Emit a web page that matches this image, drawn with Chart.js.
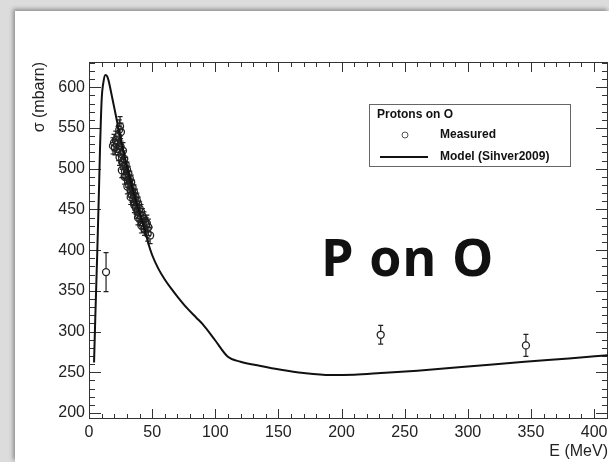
<!DOCTYPE html>
<html>
<head>
<meta charset="utf-8">
<script src="https://cdn.jsdelivr.net/npm/chart.js@4.4.1/dist/chart.umd.min.js"></script>
<style>
  html, body { margin: 0; padding: 0; }
  body { width: 609px; height: 462px; overflow: hidden; background: #dcdcdc; position: relative; }
  #panel { position: absolute; left: 15px; top: 11px; right: 0; bottom: 0; background: #fff; box-shadow: -2px -2px 4px rgba(0,0,0,0.35); }
  #myChart { position: absolute; left: 0; top: 0; }
  #tag { position: absolute; left: 321px; top: 230px; font: bold 52px "Open Sans"; letter-spacing: 1px; line-height: 1; color: #111; white-space: nowrap; }
</style>
</head>
<body onload="handleOnLoad()">
<div id="panel"></div>
<canvas id="myChart" width="609" height="462"></canvas>
<div id="tag">P on O</div>
<script>
// tick labels
const xTicks = [0, 50, 100, 150, 200, 250, 300, 350, 400]
const yTicks = [200, 250, 300, 350, 400, 450, 500, 550, 600]

// model curve (Sihver2009), E in MeV, sigma in mbarn
const modelE = [4, 5, 6.6, 8, 8.7, 10, 11.5, 13, 14.5, 16, 18, 20, 23, 26, 30, 35, 40, 45, 47, 50, 55, 60, 65, 70, 77.5, 85, 90, 100, 110, 120, 135, 152, 170, 191, 210, 231, 260, 300, 345, 380, 411]
const modelSigma = [262, 318, 400, 480, 523, 584, 607, 615, 613, 605, 590, 575, 552, 530, 503, 473, 446, 420, 408, 394, 377, 364, 353, 343, 329, 317, 309, 289, 269, 263, 258, 253, 249, 246.5, 247, 249, 252, 257, 263, 267, 271]

// measured points
const measE = [13.5, 19.0, 19.8, 20.5, 21.2, 22.0, 23.0, 24.0, 24.6, 25.3, 23.5, 24.2, 25.0, 25.8, 26.3, 26.9, 27.4, 27.9, 28.5, 29.0, 29.6, 30.1, 30.7, 31.2, 31.8, 32.3, 32.9, 33.4, 34.0, 34.5, 35.1, 35.6, 36.2, 36.8, 37.3, 37.9, 38.4, 39.0, 39.5, 40.1, 40.7, 41.2, 41.8, 42.3, 42.9, 43.5, 44.0, 44.6, 45.2, 45.8, 46.5, 47.0, 48.4, 28.2, 30.4, 33.0, 35.9, 38.8, 41.5, 26.0, 231, 346]
const measSigma = [373, 528, 532, 526, 535, 530, 540, 548, 552, 545, 520, 514, 527, 518, 508, 522, 503, 512, 497, 505, 490, 499, 486, 494, 480, 488, 474, 483, 468, 477, 463, 471, 457, 466, 452, 461, 447, 456, 443, 451, 438, 447, 434, 442, 430, 438, 426, 434, 431, 433, 420, 428, 418, 490, 478, 465, 455, 440, 430, 498, 296, 283]
const measErr = [24, 10, 10, 9, 11, 10, 12, 12, 12, 11, 10, 10, 10, 9, 9, 10, 9, 10, 9, 9, 9, 9, 9, 9, 9, 9, 9, 9, 9, 9, 8, 9, 8, 9, 8, 9, 8, 9, 8, 9, 8, 9, 8, 9, 8, 9, 8, 9, 9, 10, 9, 10, 10, 9, 9, 9, 9, 9, 9, 9, 11.5, 13.5]

const markerR = 3.5

// ROOT style frame with inward ticks on all four sides
const frameTicks = {
  id: 'frameTicks',
  beforeDatasetsDraw(chart){
    const {ctx, chartArea: a, scales: {x, y}} = chart
    ctx.save()
    ctx.strokeStyle = '#333'
    ctx.lineWidth = 1
    ctx.strokeRect(Math.round(a.left) + 0.5, Math.round(a.top) + 0.5, Math.round(a.right - a.left) - 1, Math.round(a.bottom - a.top) - 1)
    ctx.beginPath()
    for (let v = 0; v <= x.max; v += 10) {
      const px = Math.round(x.getPixelForValue(v)) + 0.5
      const len = v % 50 === 0 ? 10 : 5
      ctx.moveTo(px, a.bottom); ctx.lineTo(px, a.bottom - len)
      ctx.moveTo(px, a.top); ctx.lineTo(px, a.top + len)
    }
    for (let v = 200; v <= y.max; v += 10) {
      const py = Math.round(y.getPixelForValue(v)) + 0.5
      const len = v % 50 === 0 ? 12 : 6
      ctx.moveTo(a.left, py); ctx.lineTo(a.left + len, py)
      ctx.moveTo(a.right, py); ctx.lineTo(a.right - len, py)
    }
    ctx.stroke()
    ctx.restore()
  }
}

// vertical error bars for the measured points
const errorBars = {
  id: 'errorBars',
  beforeDatasetsDraw(chart){
    const {ctx, scales: {x, y}} = chart
    ctx.save()
    ctx.strokeStyle = '#222'
    ctx.lineWidth = 1.2
    ctx.beginPath()
    measE.forEach((e, i) => {
      const px = x.getPixelForValue(e)
      const pc = y.getPixelForValue(measSigma[i])
      const top = y.getPixelForValue(measSigma[i] + measErr[i])
      const bot = y.getPixelForValue(measSigma[i] - measErr[i])
      ctx.moveTo(px, top); ctx.lineTo(px, pc - markerR)
      ctx.moveTo(px, pc + markerR); ctx.lineTo(px, bot)
      ctx.moveTo(px - 2.5, top); ctx.lineTo(px + 2.5, top)
      ctx.moveTo(px - 2.5, bot); ctx.lineTo(px + 2.5, bot)
    })
    ctx.stroke()
    ctx.restore()
  }
}

// legend box inside the frame
const legendBox = {
  id: 'legendBox',
  afterDraw(chart){
    const ctx = chart.ctx
    ctx.save()
    ctx.strokeStyle = '#666'
    ctx.lineWidth = 1
    ctx.strokeRect(369.5, 104.5, 201, 62)
    ctx.fillStyle = '#111'
    ctx.font = 'bold 12px "Liberation Sans"'
    ctx.textBaseline = 'middle'
    ctx.fillText('Protons on O', 377, 115)
    ctx.fillText('Measured', 440, 135)
    ctx.fillText('Model (Sihver2009)', 440, 157)
    ctx.beginPath()
    ctx.arc(405, 135, 3, 0, 2 * Math.PI)
    ctx.strokeStyle = '#555'
    ctx.stroke()
    ctx.beginPath()
    ctx.moveTo(380, 157); ctx.lineTo(428, 157)
    ctx.strokeStyle = '#111'
    ctx.lineWidth = 2
    ctx.stroke()
    ctx.restore()
  }
}

function handleOnLoad(){
    createReport()
}

function createReport(){
    const ctx = document.getElementById('myChart').getContext('2d');
    const labelFont = {family: 'Liberation Sans', size: 16}
    new Chart(ctx, {
      type: 'scatter',
      data: {
        datasets: [{
          type: 'line',
          label: 'Model (Sihver2009)',
          data: modelE.map((e, i) => ({x: e, y: modelSigma[i]})),
          borderColor: '#111',
          borderWidth: 2,
          pointRadius: 0,
          cubicInterpolationMode: 'monotone',
          fill: false
        }, {
          label: 'Measured',
          data: measE.map((e, i) => ({x: e, y: measSigma[i]})),
          pointRadius: markerR,
          pointBorderColor: '#222',
          pointBackgroundColor: 'rgba(0,0,0,0)',
          pointBorderWidth: 1.3
        }]
      },
      options: {
        responsive: false,
        animation: false,
        layout: {autoPadding: false, padding: {left: 15, top: 62, right: 1, bottom: 0}},
        plugins: {legend: {display: false}, tooltip: {enabled: false}},
        scales: {
          x: {
            type: 'linear',
            min: 0,
            max: 411,
            afterBuildTicks: s => { s.ticks = xTicks.map(v => ({value: v})) },
            afterFit: s => { s.height = 43; s.paddingLeft = 0; s.paddingRight = 0 },
            grid: {display: false, drawTicks: false},
            border: {display: false},
            ticks: {color: '#222', font: labelFont, padding: 4, maxRotation: 0, autoSkip: false},
            title: {display: true, text: 'E (MeV)', align: 'end', color: '#222', font: labelFont, padding: {top: 0, bottom: 1}}
          },
          y: {
            type: 'linear',
            min: 192.6,
            max: 631,
            afterBuildTicks: s => { s.ticks = yTicks.map(v => ({value: v})) },
            afterFit: s => { s.width = 74; s.paddingTop = 0; s.paddingBottom = 0 },
            grid: {display: false, drawTicks: false},
            border: {display: false},
            ticks: {color: '#222', font: labelFont, padding: 4, autoSkip: false},
            title: {display: true, text: 'σ (mbarn)', align: 'end', color: '#222', font: labelFont, padding: {top: 15, bottom: 0}}
          }
        }
      },
      plugins: [frameTicks, errorBars, legendBox]
    });
}
</script>
</body>
</html>
